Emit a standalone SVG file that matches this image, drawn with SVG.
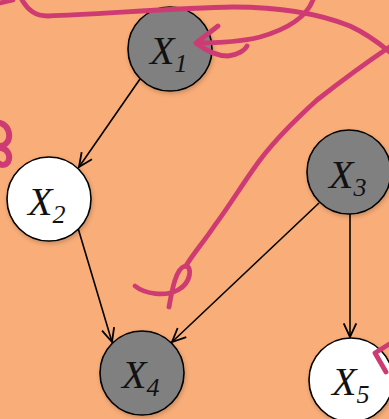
<svg xmlns="http://www.w3.org/2000/svg" width="389" height="419" viewBox="0 0 389 419">
<style>
.node circle{stroke:#000;stroke-width:1.6;filter:url(#sh)}
.gray{fill:#808080}
.white{fill:#fff}
.lbl{font-family:"Liberation Serif","Times New Roman",serif;font-style:italic;font-size:40px;fill:#111}
.sub{font-size:26px}
.edge{stroke:#000;stroke-width:1.6;fill:none;marker-end:url(#arr)}
.ink{stroke:#CE3B73;stroke-width:4.8;fill:none;stroke-linecap:round;stroke-linejoin:round}
</style>
<defs>
<filter id="sh" x="-20%" y="-20%" width="140%" height="140%">
<feDropShadow dx="1" dy="2" stdDeviation="2" flood-color="#000" flood-opacity="0.2"/>
</filter>
<marker id="arr" markerUnits="userSpaceOnUse" markerWidth="16" markerHeight="16" viewBox="0 0 14 14" refX="13" refY="7" orient="auto">
<path d="M1,1.5 L13,7 L1,12.5" fill="none" stroke="#000" stroke-width="1.6"/>
</marker>
</defs>
<rect width="389" height="419" fill="#F9AD78"/>
<g id="connectors">
<line class="edge" x1="140" y1="79" x2="79" y2="167"/>
<line class="edge" x1="78" y1="228" x2="112" y2="342"/>
<line class="edge" x1="319" y1="203" x2="172" y2="342"/>
<line class="edge" x1="350" y1="214" x2="350" y2="337"/>
</g>
<g id="X1" class="node"><circle class="gray" cx="170" cy="49" r="42"/><text class="lbl" x="150" y="64">X<tspan class="sub" dy="8">1</tspan></text></g>
<g id="X2" class="node"><circle class="white" cx="49" cy="199" r="42"/><text class="lbl" x="28" y="215">X<tspan class="sub" dy="8">2</tspan></text></g>
<g id="X3" class="node"><circle class="gray" cx="349" cy="172" r="42"/><text class="lbl" x="329" y="188">X<tspan class="sub" dy="8">3</tspan></text></g>
<g id="X4" class="node"><circle class="gray" cx="142" cy="373" r="42"/><text class="lbl" x="122" y="388">X<tspan class="sub" dy="8">4</tspan></text></g>
<g id="X5" class="node"><circle class="white" cx="351" cy="380" r="42"/><text class="lbl" x="332" y="395">X<tspan class="sub" dy="8">5</tspan></text></g>
<g id="ink">
<path class="ink" d="M0,3 L13,0"/>
<path class="ink" d="M22,0 C28,10 35,16 48,16 C100,14 180,8 233,7 C280,7 320,14 350,26 C365,33 378,42 391,53"/>
<path class="ink" d="M313,0 C306,18 285,30 260,37 C240,42 215,43 196,43 L218,26 M196,43 C205,50 215,56 228,56 C238,55 245,50 247,46"/>
<path class="ink" d="M391,46 C370,60 345,78 317,100 C295,120 275,140 260,160 C245,180 230,205 215,225 C203,243 192,255 186,266"/>
<path class="ink" d="M135,286 C145,294 165,297 178,290 C191,283 193,266 185,266 C176,268 172,290 169,307"/>
<path class="ink" style="stroke-width:6" d="M0,123 C8,125 11,134 8,141 C5,146 1,146 0,146 M1,148 C8,149 11,156 8,162 C5,166 1,165 0,164"/>
<path class="ink" d="M391,343 L375,353 L386,372"/>
</g>
</svg>
